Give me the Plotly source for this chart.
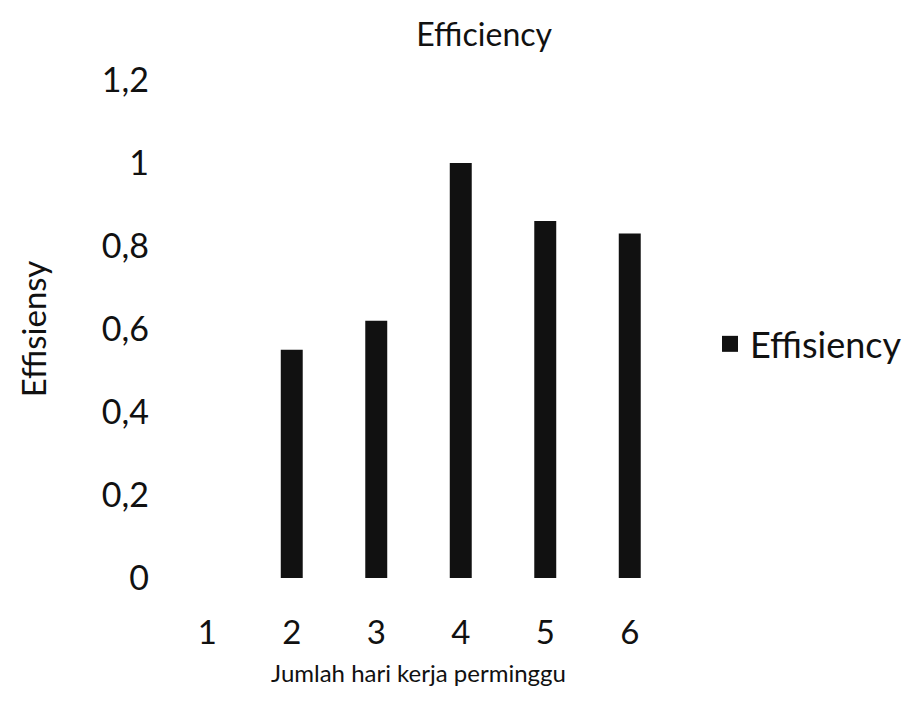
import plotly.graph_objects as go

categories = ["1", "2", "3", "4", "5", "6"]
efficiency = [0, 0.55, 0.62, 1.0, 0.86, 0.83]
y_ticks = [0, 0.2, 0.4, 0.6, 0.8, 1.0, 1.2]
series_name = "Effisiency"

FONT = "Lato, 'DejaVu Sans', sans-serif"
BAR_COLOR = "#111111"

fig = go.Figure()
fig.add_trace(go.Bar(
    x=categories, y=efficiency, name=series_name,
    marker=dict(color=BAR_COLOR, line=dict(width=0)),
    width=0.26, showlegend=False, legendgroup="eff",
))
# legend proxy (larger square symbol, like the reference)
fig.add_trace(go.Scatter(
    x=[None], y=[None], mode="markers", name=series_name, legendgroup="eff",
    marker=dict(symbol="square", size=16, color=BAR_COLOR),
    showlegend=True, hoverinfo="skip",
))

fig.update_layout(
    width=917, height=703,
    paper_bgcolor="white", plot_bgcolor="white",
    separators=", ",
    font=dict(family=FONT, color="#111111"),
    title=dict(text="Efficiency", x=0.528, xanchor="center", y=0.95, yanchor="middle",
               font=dict(size=32, family=FONT)),
    margin=dict(l=165, r=245, t=80, b=125, autoexpand=False),
    showlegend=True,
    legend=dict(x=1.075, y=0.47, xanchor="left", yanchor="middle",
                font=dict(size=36, family=FONT), bgcolor="rgba(0,0,0,0)",
                itemsizing="trace"),
    bargap=0.7,
)
fig.update_xaxes(
    type="category", showgrid=False, showline=False, zeroline=False,
    ticks="", ticklabelstandoff=32,
    tickfont=dict(size=33, family=FONT),
    title=dict(text="Jumlah hari kerja perminggu", font=dict(size=24, family=FONT), standoff=15),
)
fig.update_yaxes(
    range=[0, 1.2], tickvals=y_ticks, showgrid=False, showline=False, zeroline=False,
    ticks="", ticklabelstandoff=15,
    tickfont=dict(size=34, family=FONT),
    title=dict(text="Effisiensy", font=dict(size=33, family=FONT), standoff=45),
)

fig.write_html("out.html")
